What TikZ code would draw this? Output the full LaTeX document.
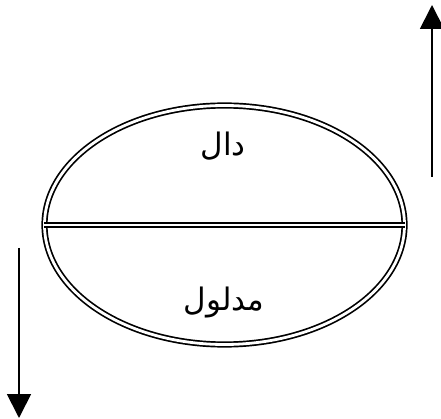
\documentclass[tikz,border=0pt]{standalone}
\usepackage{fontspec}
\newfontfamily\arabicfont[Script=Arabic]{DejaVu Sans}
\TeXXeTstate=1
\usetikzlibrary{arrows.meta,shapes.geometric,positioning}

\tikzset{
  rim/.style={double, double distance=2.8pt, line width=1.7pt},
  flow/.style={line width=1.8pt, -{Triangle[width=24pt,length=24pt]}},
  word/.style={font=\arabicfont\fontsize{31}{35}\selectfont, inner sep=0pt}
}

\begin{document}
\begin{tikzpicture}[x=1pt,y=-1pt]
  \useasboundingbox (0,0) rectangle (441,419);
  % the sign: an oval split in two halves
  \node[ellipse, rim, draw, minimum width=360pt, minimum height=239pt] (sign) at (224.5,225) {};
  \draw[rim] (sign.west) -- (sign.east);
  \node[word] (dal) at (223,146) {\beginR دال\endR};
  \node[word] (madlul) at (224,303) {\beginR مدلول\endR};
  % arrows on either side
  \coordinate (upfrom) at (432,177);
  \coordinate (upto) at (432,5);
  \coordinate (downfrom) at (19,248);
  \coordinate (downto) at (19,418);
  \draw[flow] (upfrom) -- (upto);
  \draw[flow] (downfrom) -- (downto);
\end{tikzpicture}
\end{document}
